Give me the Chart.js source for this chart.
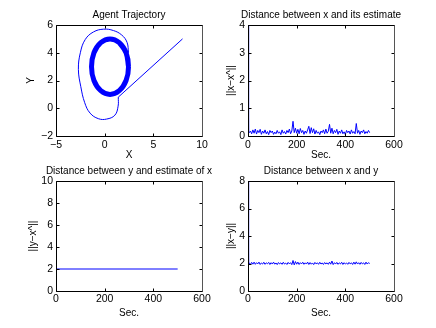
<!DOCTYPE html>
<html>
<head>
<meta charset="utf-8">
<script src="https://cdn.jsdelivr.net/npm/chart.js@4.4.0/dist/chart.umd.min.js"></script>
<style>
  html, body { margin: 0; padding: 0; background: #fff; }
  body { width: 436px; height: 328px; position: relative; overflow: hidden; }
  canvas { position: absolute; }
</style>
</head>
<body>
<canvas id="traj" width="258" height="164" style="left:0;top:0"></canvas>
<canvas id="errEst" width="206" height="164" style="left:218px;top:0"></canvas>
<canvas id="errY" width="258" height="164" style="left:0;top:164px"></canvas>
<canvas id="distXY" width="206" height="164" style="left:218px;top:164px"></canvas>
<script>
// --- agent trajectory (X, Y) ---
const approachX = [8.0, 1.4];
const approachY = [5.0, 0.8];
const loopX = [1.4, 1.38, 1.05, 0.2, -0.65, -1.5, -2.05, -2.45, -2.7, -2.5, -2.0, -1.15, -0.1, 0.9, 1.75, 2.3, 2.45];
const loopY = [0.8, 0.15, -0.5, -0.78, -0.75, -0.35, 0.4, 1.55, 2.8, 4.0, 4.95, 5.5, 5.7, 5.6, 5.28, 4.75, 4.0];
const orbitX = [2.45, 2.2, 1.5, 0.55, -0.4, -1.1, -1.35, -1.1, -0.4, 0.55, 1.5, 2.2, 2.45, 2.2, 1.5];
const orbitY = [3.0, 4.0, 4.73, 5.0, 4.73, 4.0, 3.0, 2.0, 1.27, 1.0, 1.27, 2.0, 3.0, 4.0, 4.73];

// --- time series (Sec.) ---
const sec = [0, 1, 2, 3, 4,
  5, 10, 15, 20, 25, 30, 35, 40, 45, 50, 55, 60, 65, 70, 75, 80, 85, 90, 95, 100,
  105, 110, 115, 120, 125, 130, 135, 140, 145, 150, 155, 160, 165, 170, 175, 180, 185, 190, 195, 200,
  205, 210, 215, 220, 225, 230, 235, 240, 245, 250, 255, 260, 265, 270, 275, 280, 285, 290, 295, 300,
  305, 310, 315, 320, 325, 330, 335, 340, 345, 350, 355, 360, 365, 370, 375, 380, 385, 390, 395, 400,
  405, 410, 415, 420, 425, 430, 435, 440, 445, 450, 455, 460, 465, 470, 475, 480, 485, 490, 495, 500];

// ||x - x^||
const errEstimate = [4.0, 2.0, 1.0, 0.3, 0.15,
  0.12, 0.18, 0.08, 0.22, 0.1, 0.25, 0.07, 0.2, 0.12, 0.24, 0.06, 0.18, 0.1, 0.22, 0.08, 0.16, 0.05, 0.2, 0.12, 0.18,
  0.06, 0.14, 0.08, 0.2, 0.1, 0.15, 0.05, 0.22, 0.1, 0.16, 0.07, 0.2, 0.12, 0.25, 0.08, 0.18, 0.53, 0.12, 0.28, 0.1,
  0.24, 0.08, 0.27, 0.12, 0.2, 0.06, 0.18, 0.1, 0.22, 0.35, 0.09, 0.3, 0.12, 0.26, 0.07, 0.2, 0.1, 0.15, 0.05, 0.18,
  0.12, 0.22, 0.08, 0.25, 0.1, 0.17, 0.42, 0.1, 0.28, 0.08, 0.2, 0.12, 0.24, 0.06, 0.18, 0.1, 0.22, 0.08, 0.15, 0.05,
  0.2, 0.12, 0.18, 0.07, 0.22, 0.1, 0.16, 0.08, 0.45, 0.1, 0.2, 0.06, 0.18, 0.12, 0.22, 0.08, 0.16, 0.1, 0.2, 0.12];

// ||x - y||
const distXY = [8.0, 4.0, 2.4, 2.15, 2.05,
  2.05, 1.92, 2.08, 1.95, 2.1, 1.94, 2.06, 1.97, 2.1, 1.93, 2.04, 1.96, 2.09, 1.94, 2.05, 1.98, 2.08, 1.93, 2.06, 1.96,
  2.1, 1.95, 2.04, 1.92, 2.07, 1.97, 2.05, 1.94, 2.09, 1.96, 2.03, 1.93, 2.08, 1.97, 2.06, 1.92, 2.22, 1.9, 2.14, 1.95,
  2.1, 1.93, 2.06, 1.97, 2.09, 1.94, 2.05, 1.96, 2.1, 1.93, 2.07, 1.95, 2.04, 1.92, 2.08, 1.97, 2.05, 1.94, 2.09, 1.96,
  2.04, 1.93, 2.07, 1.97, 2.05, 1.94, 2.1, 1.95, 2.18, 1.92, 2.06, 1.96, 2.08, 1.94, 2.05, 1.97, 2.09, 1.93, 2.06, 1.96,
  2.04, 1.94, 2.08, 1.97, 2.05, 1.93, 2.1, 1.95, 2.12, 1.96, 2.06, 1.94, 2.08, 1.97, 2.05, 1.93, 2.1, 1.96, 2.06, 2.0];

// ||y - x^||
const secY = [0, 1, 500];
const errY = [9.7, 2.0, 2.0];

const BLUE = '#0000ff';

Chart.defaults.font.family = '"Liberation Sans", Arial, Helvetica, sans-serif';
Chart.defaults.font.size = 10;
Chart.defaults.color = '#000';
Chart.defaults.animation = false;

function zip(xs, ys) {
  return xs.map((x, i) => ({ x: x, y: ys[i] }));
}

function minusSign(v) {
  return String(v).replace('-', '\u2212');
}

// matlab style box with inward ticks on all four sides
const boxPlugin = {
  id: 'matlabBox',
  afterDatasetsDraw(chart) {
    const { ctx, chartArea: a, scales: { x, y } } = chart;
    const l = a.left + 0.5, r = a.right + 0.5, t = a.top + 0.5, b = a.bottom + 0.5;
    ctx.save();
    ctx.lineWidth = 1;
    ctx.strokeStyle = '#000';
    ctx.beginPath();
    ctx.moveTo(r, t); ctx.lineTo(l, t); ctx.lineTo(l, b); ctx.lineTo(r, b);
    x.ticks.forEach(tk => {
      const p = Math.round(x.getPixelForValue(tk.value)) + 0.5;
      ctx.moveTo(p, b); ctx.lineTo(p, b - 3);
      ctx.moveTo(p, t); ctx.lineTo(p, t + 3);
    });
    y.ticks.forEach(tk => {
      const p = Math.round(y.getPixelForValue(tk.value)) + 0.5;
      ctx.moveTo(l, p); ctx.lineTo(l + 3, p);
      ctx.moveTo(r, p); ctx.lineTo(r - 3, p);
    });
    ctx.stroke();
    ctx.strokeStyle = '#555';
    ctx.beginPath();
    ctx.moveTo(r, t); ctx.lineTo(r, b);
    ctx.stroke();
    ctx.restore();
  }
};

function subplot(id, o) {
  return new Chart(document.getElementById(id), {
    type: 'scatter',
    data: { datasets: o.datasets },
    plugins: [boxPlugin],
    options: {
      responsive: false,
      layout: { padding: 0 },
      plugins: {
        legend: { display: false },
        tooltip: { enabled: false },
        title: {
          display: true,
          text: o.title,
          color: '#000',
          font: { size: 10, weight: 'normal' },
          padding: { top: o.titleTop, bottom: 4 }
        }
      },
      scales: {
        x: {
          type: 'linear', min: o.xMin, max: o.xMax,
          ticks: { stepSize: o.xStep, padding: o.tickPad, maxRotation: 0, autoSkip: false, font: { size: 10.5 }, callback: minusSign },
          grid: { display: false, drawTicks: false },
          border: { display: false },
          title: { display: true, text: o.xTitle, padding: { top: 0, bottom: o.xTitlePad } },
          afterFit: s => { s.height = o.xHeight; }
        },
        y: {
          type: 'linear', min: o.yMin, max: o.yMax,
          ticks: { stepSize: o.yStep, padding: 3, autoSkip: false, font: { size: 10.5 }, callback: minusSign },
          grid: { display: false, drawTicks: false },
          border: { display: false },
          title: { display: true, text: o.yTitle, padding: { top: o.yTitlePad, bottom: 0 } },
          afterFit: s => { s.width = o.yWidth; }
        },
        yRight: {
          axis: 'y', type: 'linear', position: 'right', display: true,
          ticks: { display: false },
          grid: { display: false, drawTicks: false },
          border: { display: false },
          afterFit: s => { s.width = o.yWidth; }
        }
      }
    }
  });
}

function line(points, width, tension) {
  return {
    data: points,
    showLine: true,
    borderColor: BLUE,
    backgroundColor: BLUE,
    borderWidth: width,
    pointRadius: 0,
    tension: tension
  };
}

subplot('traj', {
  title: 'Agent Trajectory', titleTop: 9,
  xTitle: 'X', yTitle: 'Y',
  xMin: -5, xMax: 10, xStep: 5,
  yMin: -2, yMax: 6, yStep: 2,
  yWidth: 56, xHeight: 28, tickPad: 2.5, xTitlePad: 3, yTitlePad: 25,
  datasets: [
    line(zip(approachX, approachY), 1, 0),
    line(zip(loopX, loopY), 1, 0.4),
    line(zip(orbitX, orbitY), 5, 0.4)
  ]
});

subplot('errEst', {
  title: 'Distance between x and its estimate', titleTop: 9,
  xTitle: 'Sec.', yTitle: '||x\u2212x^||',
  xMin: 0, xMax: 600, xStep: 200,
  yMin: 0, yMax: 4, yStep: 1,
  yWidth: 30, xHeight: 28, tickPad: 2.5, xTitlePad: 3, yTitlePad: 7,
  datasets: [line(zip(sec, errEstimate), 1, 0)]
});

subplot('errY', {
  title: 'Distance between y and estimate of x', titleTop: 1,
  xTitle: 'Sec.', yTitle: '||y\u2212x^||',
  xMin: 0, xMax: 600, xStep: 200,
  yMin: 0, yMax: 10, yStep: 2,
  yWidth: 56, xHeight: 37, tickPad: 2, xTitlePad: 9, yTitlePad: 27,
  datasets: [line(zip(secY, errY), 1, 0)]
});

subplot('distXY', {
  title: 'Distance between x and y', titleTop: 1,
  xTitle: 'Sec.', yTitle: '||x\u2212y||',
  xMin: 0, xMax: 600, xStep: 200,
  yMin: 0, yMax: 8, yStep: 2,
  yWidth: 30, xHeight: 37, tickPad: 2, xTitlePad: 9, yTitlePad: 7,
  datasets: [line(zip(sec, distXY), 1, 0)]
});
</script>
</body>
</html>
